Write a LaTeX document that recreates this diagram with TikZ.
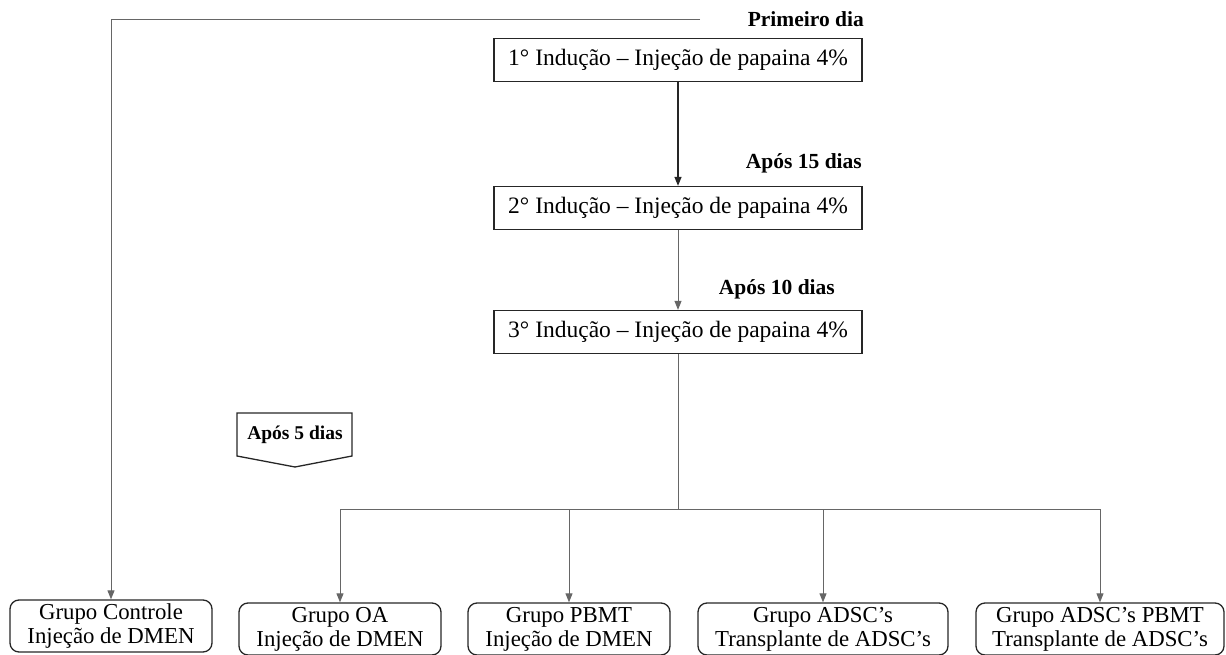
\documentclass[tikz,border=0pt]{standalone}
\usepackage{fontspec}
\setmainfont{Liberation Serif}
\usetikzlibrary{arrows.meta}
\begin{document}
\begin{tikzpicture}[x=1pt,y=-1pt,
  txt/.style={font=\fontsize{23.5}{25}\selectfont},
  ind/.style={draw=black!85, line width=1.3pt, minimum width=368pt, minimum height=43pt, inner sep=0pt, txt},
  grp/.style={draw=black!85, line width=1.3pt, rounded corners=9pt, minimum height=52pt, inner sep=0pt, align=center, font=\fontsize{22.8}{24}\selectfont},
  lbl/.style={font=\bfseries\fontsize{21.5}{24}\selectfont, inner sep=0pt},
  conn/.style={draw=black!60, line width=0.9pt},
  arr/.style={conn, -{Triangle[length=9pt,width=7pt]}}
]
\useasboundingbox (0,0) rectangle (1226,655);

\node[ind] (b1) at (678,60) {1° Indução – Injeção de papaina 4\%};
\node[ind] (b2) at (678,208) {2° Indução – Injeção de papaina 4\%};
\node[ind] (b3) at (678,332) {3° Indução – Injeção de papaina 4\%};

\node[lbl, anchor=east] (d1) at (864,19) {Primeiro dia};
\node[lbl, anchor=east] (d15) at (862,163) {Após 15 dias};
\node[lbl, anchor=east] (d10) at (835,289) {Após 10 dias};

\node[grp, minimum width=202pt] (c) at (111,626) {Grupo Controle\\Injeção de DMEN};
\node[grp, minimum width=202pt] (oa) at (340,629) {Grupo OA\\Injeção de DMEN};
\node[grp, minimum width=202pt] (pb) at (569,629) {Grupo PBMT\\Injeção de DMEN};
\node[grp, minimum width=250pt] (ad) at (823,629) {Grupo ADSC’s\\Transplante de ADSC’s};
\node[grp, minimum width=248pt] (ap) at (1100,629) {Grupo ADSC’s PBMT\\Transplante de ADSC’s};

% Após 5 dias pentagon
\node[font=\bfseries\fontsize{19.5}{21}\selectfont, inner sep=0pt] (a5) at (295,435) {Após 5 dias};
\draw[draw=black!85, line width=1.3pt] (237,413) -- (352,413) -- (352,456) -- (295,467) -- (237,456) -- cycle;

\coordinate (s) at (700,19);
\draw[arr] (s) -| (c.north);
\draw[arr, draw=black!85, line width=1.3pt] (b1.south) -- (b2.north);
\draw[arr] (b2.south) -- (b3.north);
\coordinate (j) at (678,509);
\draw[conn] (b3.south) -- (j);
\draw[arr] (j) -| (oa.north);
\draw[arr] (j) -| (ap.north);
\draw[arr] (pb.north |- j) -- (pb.north);
\draw[arr] (ad.north |- j) -- (ad.north);
\end{tikzpicture}
\end{document}
